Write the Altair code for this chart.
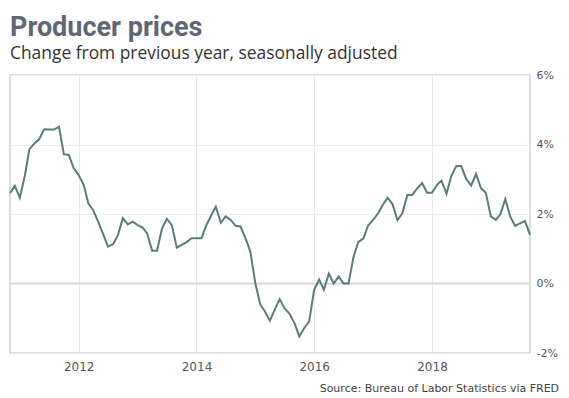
import altair as alt
import pandas as pd

# ---- data ----
start_month = "2010-11-01"
ppi_yoy = [2.60, 2.81, 2.47, 3.10, 3.86, 4.03, 4.15, 4.44, 4.43, 4.43,
           4.51, 3.72, 3.70, 3.32, 3.12, 2.84, 2.31, 2.10, 1.78, 1.42,
           1.06, 1.13, 1.40, 1.88, 1.70, 1.78, 1.68, 1.61, 1.44, 0.94,
           0.94, 1.58, 1.86, 1.68, 1.03, 1.11, 1.19, 1.30, 1.30, 1.30,
           1.66, 1.95, 2.21, 1.75, 1.93, 1.83, 1.66, 1.64, 1.30, 0.92,
           0.01, -0.61, -0.80, -1.07, -0.76, -0.45, -0.71, -0.87, -1.14, -1.52,
           -1.28, -1.09, -0.18, 0.11, -0.18, 0.28, 0.00, 0.20, 0.00, 0.00,
           0.76, 1.20, 1.29, 1.67, 1.83, 2.02, 2.26, 2.47, 2.28, 1.82,
           2.02, 2.55, 2.55, 2.74, 2.89, 2.61, 2.61, 2.84, 2.96, 2.58,
           3.10, 3.38, 3.38, 3.01, 2.82, 3.15, 2.74, 2.61, 1.93, 1.83,
           1.99, 2.43, 1.93, 1.66, 1.73, 1.80, 1.40]
tick_years = [2012, 2014, 2016, 2018]
y_ticks = [-2, 0, 2, 4, 6]
zero_line = [0]

title_text = "Producer prices"
subtitle_text = "Change from previous year, seasonally adjusted"
source_text = "Source: Bureau of Labor Statistics via FRED"

months = pd.date_range(start_month, periods=len(ppi_yoy), freq="MS")
df = pd.DataFrame({"month": months, "yoy": ppi_yoy})
zero_df = pd.DataFrame({"yoy": zero_line})

x_axis = alt.Axis(
    values=[alt.DateTime(year=y, month=1, date=1) for y in tick_years],
    format="%Y",
    domain=False, ticks=False, tickSize=0,
    labelFont="DejaVu Sans", labelFontSize=12, labelColor="#555555",
    labelPadding=8,
    grid=True, gridColor="#e8e8e8", gridWidth=1,
    title=source_text,
    titleFont="DejaVu Sans", titleFontSize=11, titleFontWeight="normal",
    titleColor="#444444", titleAnchor="end", titleAlign="right",
    titleBaseline="alphabetic", titleX=548.6, titleY=38,
)

y_axis = alt.Axis(
    orient="right", values=y_ticks,
    labelExpr="datum.value + '%'",
    domain=False, ticks=False, tickSize=0,
    labelFont="DejaVu Sans", labelFontSize=11, labelColor="#555555",
    labelPadding=6,
    grid=True, gridColor="#eeeeee", gridWidth=1,
    title=None,
)

y_scale = alt.Scale(domain=[-2, 6], nice=False, zero=False)

zero_rule = alt.Chart(zero_df).mark_rule(color="#dcdcdc", strokeWidth=2).encode(
    y=alt.Y("yoy:Q", scale=y_scale, axis=y_axis)
)

line = alt.Chart(df).mark_line(color="#5a7d7c", strokeWidth=2).encode(
    x=alt.X("month:T", scale=alt.Scale(nice=False), axis=x_axis),
    y=alt.Y("yoy:Q", scale=y_scale, axis=y_axis),
)

chart = alt.layer(zero_rule, line).properties(
    width=520,
    height=278,
    autosize=alt.AutoSizeParams(type="none"),
    padding={"left": 2, "top": 67, "right": 31, "bottom": 41},
    title=alt.TitleParams(
        text=title_text,
        subtitle=subtitle_text,
        anchor="start",
        frame="group",
        font="Roboto",
        fontSize=27,
        fontWeight="bold",
        color="#5f6776",
        subtitleFont="Open Sans",
        subtitleFontSize=17.4,
        subtitleColor="#333333",
        subtitlePadding=3,
        offset=6,
    ),
).configure_view(stroke="#cfcfcf", strokeWidth=1.5)

chart.save("out.html", embed_options={"renderer": "svg", "actions": False})
